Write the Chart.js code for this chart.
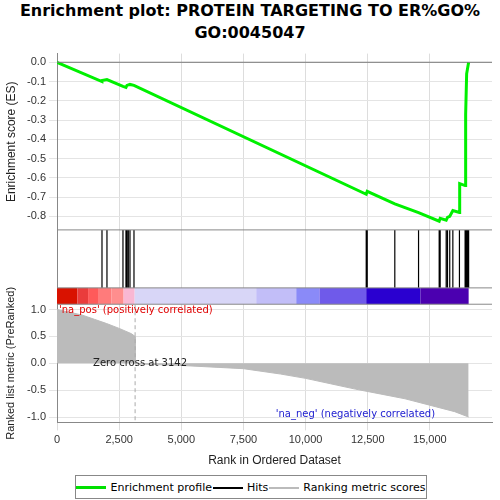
<!DOCTYPE html>
<html><head><meta charset="utf-8">
<script src="https://cdn.jsdelivr.net/npm/chart.js@4"></script>
<style>
body{margin:0;background:#fff;font-family:"DejaVu Sans",sans-serif}
#t{position:absolute;left:0;top:0;width:500px;text-align:center;font-weight:bold;font-size:16px;line-height:22px;white-space:nowrap}
#wrap{position:absolute;left:0;top:44px;width:500px;height:428px}
#leg{position:absolute;left:75px;top:475px;width:350px;height:22px;border:1px solid #888;font-size:11px;display:flex;align-items:center;justify-content:space-around;white-space:nowrap}
.s{display:inline-block;width:30px;height:0;vertical-align:middle;margin-right:4px}
</style></head><body>
<div id="t">Enrichment plot: PROTEIN TARGETING TO ER%GO%<br>GO:0045047</div>
<div id="wrap"><canvas id="c"></canvas></div>
<div id="leg"><span><i class="s" style="border-top:3px solid #00e000"></i>Enrichment profile</span><span><i class="s" style="border-top:2px solid #000"></i>Hits</span><span><i class="s" style="border-top:2px solid #bbb"></i>Ranking metric scores</span></div>
<script>
const esRank = [0,1810,1812,2010,2654,2775,2815,2936,3097,12440,12480,13590,14545,15375,15415,15657,15710,15800,15925,16190,16200,16418,16440,16480,16560];
const esVal  = [0,-0.10,-0.095,-0.09,-0.125,-0.13,-0.12,-0.115,-0.12,-0.685,-0.67,-0.735,-0.78,-0.825,-0.81,-0.82,-0.805,-0.80,-0.77,-0.78,-0.63,-0.64,-0.27,-0.06,0];
const hits = [1810,2010,2654,2775,2815,2869,2936,3097,12440,12480,13590,14545,15375,15415,15657,15710,15800,15925,16190,16418,16460,16500,16530,16560];
const metricRank = [0,500,1000,1500,2000,2500,3000,3141,3143,5000,7500,9000,10000,11000,12000,13000,14000,15000,16000,16560];
const metricVal  = [1.0,0.95,0.9,0.82,0.74,0.65,0.55,0.5,-0.01,-0.04,-0.1,-0.2,-0.28,-0.38,-0.48,-0.57,-0.66,-0.78,-0.9,-1.0];
const barEdges = [0,820,1250,1650,2185,2680,3125,8015,9625,10560,12440,14620,16560];
const barColors = ['#d91200','#ea3c3c','#ff5a5a','#ff7b7b','#ff8e8e','#f9b7d3','#d8d6f7','#c2bef8','#8a8af8','#6f5aea','#2a00d0','#4b00b0'];
const xTicks = [0,2500,5000,7500,10000,12500,15000];

const hitData = [];
hits.forEach(h => { hitData.push({x:h,y:0.22},{x:h,y:1},{x:h,y:null}); });

const deco = {
  id:'deco',
  afterDatasetsDraw(chart){
    const c = chart.ctx, x = chart.scales.x, yh = chart.scales.yh, yr = chart.scales.yr;
    const top = yh.getPixelForValue(0.22), bot = yh.getPixelForValue(0);
    for (let i=0;i<barColors.length;i++){
      c.fillStyle = barColors[i];
      const a = x.getPixelForValue(barEdges[i]), b = x.getPixelForValue(barEdges[i+1]);
      c.fillRect(a, top, b-a, bot-top);
    }
    c.strokeStyle='#888'; c.lineWidth=1;
    c.beginPath(); c.moveTo(chart.chartArea.left,top); c.lineTo(chart.chartArea.right,top);
    c.moveTo(chart.chartArea.left,bot); c.lineTo(chart.chartArea.right,bot);
    c.moveTo(chart.chartArea.left,yh.top); c.lineTo(chart.chartArea.right,yh.top); c.stroke();
    c.setLineDash([4,3]); c.strokeStyle='#aaa';
    const zx = x.getPixelForValue(3142);
    c.beginPath(); c.moveTo(zx,yr.top); c.lineTo(zx,yr.bottom); c.stroke(); c.setLineDash([]);
    c.font='10px "DejaVu Sans"';
    c.fillStyle='#e00000'; c.fillText("'na_pos' (positively correlated)", x.left+2, yr.top+9);
    c.fillStyle='#222'; c.fillText('Zero cross at 3142', x.getPixelForValue(1450), yr.getPixelForValue(0)+3);
    c.fillStyle='#2020d0'; c.fillText("'na_neg' (negatively correlated)", x.getPixelForValue(8800), yr.bottom-5);
    const y0 = chart.scales.ye.getPixelForValue(0);
    c.strokeStyle='#777'; c.beginPath(); c.moveTo(x.left,y0); c.lineTo(x.right,y0); c.stroke();
  }
};

const fitW = s => { s.width = 57; };
new Chart(document.getElementById('c'), {
  type:'line',
  data:{datasets:[
    {data: esRank.map((r,i)=>({x:r,y:esVal[i]})), yAxisID:'ye', borderColor:'#00f000', borderWidth:3, pointRadius:0, tension:0},
    {data: hitData, yAxisID:'yh', borderColor:'#000', borderWidth:1.2, pointRadius:0, spanGaps:false},
    {data: metricRank.map((r,i)=>({x:r,y:metricVal[i]})), yAxisID:'yr', borderColor:'#bbb', backgroundColor:'#bbb', fill:'origin', borderWidth:1, pointRadius:0}
  ]},
  options:{
    responsive:true, maintainAspectRatio:false, animation:false,
    layout:{padding:{right:8,top:4}},
    plugins:{legend:{display:false}, tooltip:{enabled:false}},
    scales:{
      x:{type:'linear', min:0, max:17500, afterBuildTicks:s=>{s.ticks=xTicks.map(v=>({value:v}));},
         ticks:{font:{size:11}, color:'#333', callback:v=>v.toLocaleString('en-US')},
         grid:{color:'#ddd'}, border:{color:'#888'},
         title:{display:true, text:'Rank in Ordered Dataset', font:{size:12}, color:'#222'}},
      yr:{type:'linear', position:'left', stack:'s', stackWeight:124, min:-1.1, max:1.1, afterFit:fitW,
         afterBuildTicks:s=>{s.ticks=[1,0.5,0,-0.5,-1].map(v=>({value:v}));},
         ticks:{font:{size:11}, color:'#333', autoSkip:false, callback:v=>v.toFixed(1)}, grid:{color:'#e4e4e4'}, border:{color:'#888'},
         title:{display:true, text:'Ranked list metric (PreRanked)', font:{size:11}, color:'#222'}},
      yh:{type:'linear', position:'left', stack:'s', stackWeight:78, min:0, max:1, afterFit:fitW,
         ticks:{display:false}, grid:{display:false}, border:{color:'#888'}},
      ye:{type:'linear', position:'left', stack:'s', stackWeight:185, min:-0.87, max:0.045, afterFit:fitW,
         afterBuildTicks:s=>{s.ticks=[0,-0.1,-0.2,-0.3,-0.4,-0.5,-0.6,-0.7,-0.8].map(v=>({value:v}));},
         ticks:{font:{size:11}, color:'#333', autoSkip:false, callback:v=>v.toFixed(1)}, grid:{color:'#e4e4e4'}, border:{color:'#888'},
         title:{display:true, text:'Enrichment score (ES)', font:{size:12}, color:'#222'}}
    }
  },
  plugins:[deco]
});
</script>
</body></html>
